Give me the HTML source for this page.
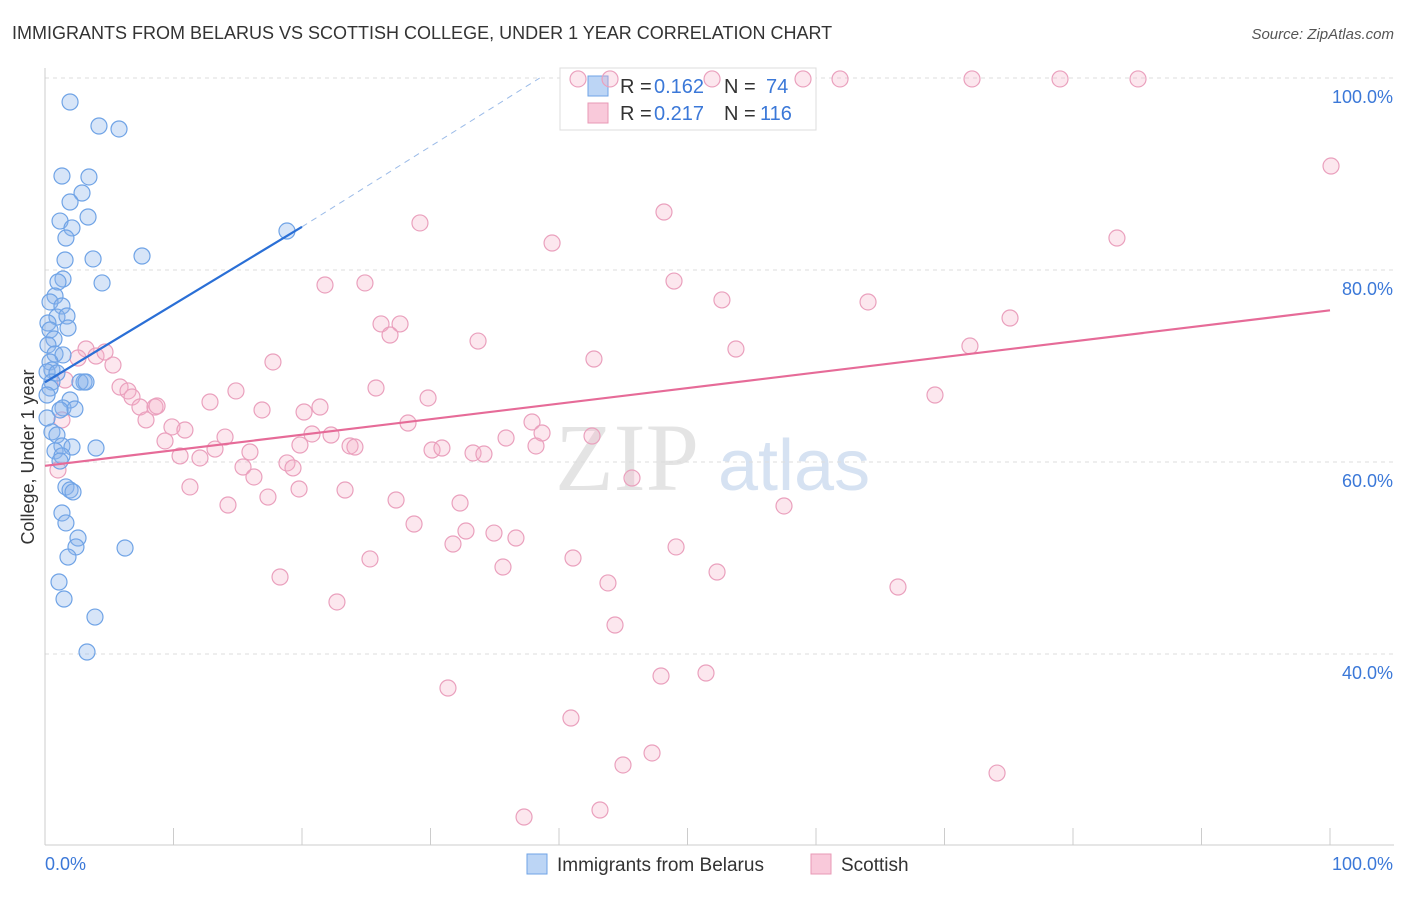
<!DOCTYPE html>
<html><head><meta charset="utf-8"><style>
body{margin:0;background:#fff;font-family:"Liberation Sans",sans-serif;}
</style></head><body>
<svg id="chart" width="1406" height="892" xmlns="http://www.w3.org/2000/svg">
<text x="12" y="39" font-size="18" fill="#333">IMMIGRANTS FROM BELARUS VS SCOTTISH COLLEGE, UNDER 1 YEAR CORRELATION CHART</text>
<text x="1394" y="39" font-size="15" fill="#555" font-style="italic" text-anchor="end">Source: ZipAtlas.com</text>
<text x="555" y="490" font-size="96" fill="#e4e4e4" font-family="Liberation Serif,serif">ZIP</text>
<text x="718" y="490" font-size="72" fill="#d6e2f2">atlas</text>
<g id="grid"></g><g id="axes"></g>
<g>
<rect x="560" y="68" width="256" height="62" fill="#fff" stroke="#ddd"/>
<rect x="588" y="76" width="20" height="20" fill="#bcd5f5" stroke="#6fa3e6"/>
<rect x="588" y="103" width="20" height="20" fill="#f9c9da" stroke="#e899b6"/>
<text x="620" y="93" font-size="20" fill="#333">R =</text>
<text x="654" y="93" font-size="20" fill="#3b78d8">0.162</text>
<text x="724" y="93" font-size="20" fill="#333">N =</text>
<text x="766" y="93" font-size="20" fill="#3b78d8">74</text>
<text x="620" y="120" font-size="20" fill="#333">R =</text>
<text x="654" y="120" font-size="20" fill="#3b78d8">0.217</text>
<text x="724" y="120" font-size="20" fill="#333">N =</text>
<text x="760" y="120" font-size="20" fill="#3b78d8">116</text>
</g>
<g id="pts"></g><g id="trend"></g>
<text transform="translate(34,457) rotate(-90)" font-size="18" fill="#333" text-anchor="middle">College, Under 1 year</text>
<g>
<rect x="527" y="854" width="20" height="20" fill="#bcd5f5" stroke="#6fa3e6"/>
<text x="557" y="871" font-size="19" fill="#333">Immigrants from Belarus</text>
<rect x="811" y="854" width="20" height="20" fill="#f9c9da" stroke="#e899b6"/>
<text x="841" y="871" font-size="19" fill="#333">Scottish</text>
</g>
</svg>
<script>
const yTicks=[40,60,80,100];
const yTickLabels=["40.0%","60.0%","80.0%","100.0%"];
const xTicks=[0,10,20,30,40,50,60,70,80,90,100];
const bluePx=[[70,102],[99,126],[119,129],[62,176],[89,177],[82,193],[70,202],[60,221],[88,217],[72,228],[66,238],[287,231],[142,256],[93,259],[65,260],[102,283],[63,279],[58,282],[55,296],[50,302],[62,306],[57,317],[67,316],[48,323],[68,328],[50,330],[54,339],[48,345],[55,354],[63,355],[50,362],[52,370],[47,372],[57,373],[52,382],[84,382],[80,382],[86,382],[50,388],[47,395],[70,400],[63,408],[75,409],[60,410],[47,418],[52,432],[57,435],[96,448],[62,446],[72,447],[55,451],[62,456],[60,461],[66,487],[70,490],[73,492],[62,513],[66,523],[78,538],[76,547],[125,548],[68,557],[59,582],[64,599],[95,617],[87,652]];
const pinkPx=[[578,79],[610,79],[712,79],[803,79],[840,79],[972,79],[1060,79],[1138,79],[1331,166],[420,223],[664,212],[552,243],[1117,238],[674,281],[325,285],[365,283],[722,300],[868,302],[1010,318],[381,324],[400,324],[390,335],[478,341],[736,349],[970,346],[594,359],[273,362],[86,349],[96,356],[105,352],[113,365],[78,358],[65,380],[120,387],[128,391],[132,397],[236,391],[376,388],[428,398],[935,395],[140,407],[155,407],[157,406],[146,420],[210,402],[262,410],[304,412],[320,407],[408,423],[532,422],[172,427],[185,430],[165,441],[225,437],[215,449],[250,452],[300,445],[312,434],[331,435],[350,446],[355,447],[432,450],[442,448],[473,453],[484,454],[506,438],[536,446],[542,433],[592,436],[180,456],[200,458],[243,467],[254,477],[287,463],[293,468],[190,487],[299,489],[345,490],[268,497],[228,505],[396,500],[460,503],[632,478],[784,506],[414,524],[466,531],[494,533],[516,538],[453,544],[676,547],[370,559],[573,558],[503,567],[717,572],[280,577],[608,583],[898,587],[337,602],[615,625],[448,688],[661,676],[706,673],[571,718],[652,753],[623,765],[997,773],[600,810],[524,817],[62,420],[58,470]];
const blueX=bluePx.map(p=>+((p[0]-45)/12.85).toFixed(2));
const blueY=bluePx.map(p=>+(100-(p[1]-78)/9.6).toFixed(2));
const pinkX=pinkPx.map(p=>+((p[0]-45)/12.85).toFixed(2));
const pinkY=pinkPx.map(p=>+(100-(p[1]-78)/9.6).toFixed(2));
const blueTrend=[[0,68.3],[20,84.5]];
const blueTrendExt=[[20,84.5],[38.5,100]];
const pinkTrend=[[0,59.6],[100,75.8]];
const X=v=>45+v*12.85, Y=v=>78+(100-v)*9.6;
const NS="http://www.w3.org/2000/svg";
function mk(t,a,parent){const e=document.createElementNS(NS,t);for(const k in a)e.setAttribute(k,a[k]);document.getElementById(parent).appendChild(e);return e;}
yTicks.forEach((t,i)=>{
 const l=mk('line',{x1:45,x2:1394,y1:Y(t),y2:Y(t),stroke:'#ddd','stroke-dasharray':'4,4'},'grid');
 
 
 const tx=mk('text',{x:1393,y:Y(t)+25,'font-size':18,fill:'#3b78d8','text-anchor':'end'},'grid');
 tx.textContent=yTickLabels[i];
 
 
});
mk('line',{x1:45,x2:45,y1:68,y2:845,stroke:'#ccc'},'axes');
mk('line',{x1:45,x2:1394,y1:845,y2:845,stroke:'#ccc'},'axes');
xTicks.forEach(t=>{const l=mk('line',{x1:X(t),x2:X(t),y1:828,y2:845,stroke:'#ccc'},'axes');
 
 });
let a=mk('text',{x:45,y:870,'font-size':18,fill:'#3b78d8'},'axes');a.textContent='0.0%';


a=mk('text',{x:1393,y:870,'font-size':18,fill:'#3b78d8','text-anchor':'end'},'axes');a.textContent='100.0%';


pinkX.forEach((x,i)=>{const c=mk('circle',{cx:X(x),cy:Y(pinkY[i]),r:8,fill:'rgba(244,175,200,0.3)',stroke:'#eaa0bd','stroke-width':1.2},'pts');
 
 });
blueX.forEach((x,i)=>{const c=mk('circle',{cx:X(x),cy:Y(blueY[i]),r:8,fill:'rgba(140,180,235,0.35)',stroke:'#6fa3e6','stroke-width':1.2},'pts');
 
 });
let t=mk('line',{x1:X(blueTrend[0][0]),y1:Y(blueTrend[0][1]),x2:X(blueTrend[1][0]),y2:Y(blueTrend[1][1]),stroke:'#2a6fd6','stroke-width':2.2},'trend');


t=mk('line',{x1:X(blueTrendExt[0][0]),y1:Y(blueTrendExt[0][1]),x2:X(blueTrendExt[1][0]),y2:Y(blueTrendExt[1][1]),stroke:'#9bbbe8','stroke-width':1,'stroke-dasharray':'6,5'},'trend');


t=mk('line',{x1:X(pinkTrend[0][0]),y1:Y(pinkTrend[0][1]),x2:X(pinkTrend[1][0]),y2:Y(pinkTrend[1][1]),stroke:'#e66b98','stroke-width':2.2},'trend');


</script>
</body></html>
